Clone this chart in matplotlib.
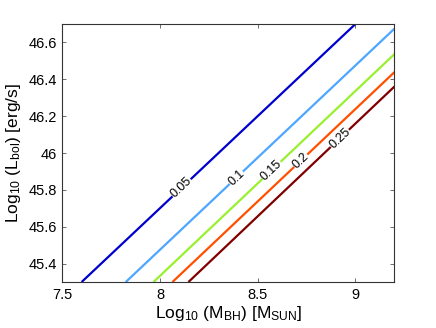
import matplotlib
matplotlib.use('Agg')
import matplotlib.pyplot as plt
import numpy as np

plt.rcParams['font.family'] = ['Liberation Sans', 'DejaVu Sans']
plt.rcParams['mathtext.default'] = 'regular'

# contour levels and where each straight contour enters/leaves the box
levels = [0.05, 0.1, 0.15, 0.2, 0.25]
m_start = [7.598, 7.824, 7.966, 8.063, 8.145]
l_start = [45.3, 45.3, 45.3, 45.3, 45.3]
m_end = [9.0, 9.2, 9.2, 9.2, 9.2]
l_end = [46.7, 46.675, 46.537, 46.439, 46.361]
label_m = [8.11, 8.39, 8.57, 8.72, 8.92]
colors = ['#0000CD', '#4DA6FF', '#99F02E', '#FF5000', '#800000']

xticks = [7.5, 8, 8.5, 9]
yticks = [45.4, 45.6, 45.8, 46, 46.2, 46.4, 46.6]

fig = plt.figure(figsize=(4.36, 3.28), dpi=100)
ax = fig.add_axes([0.1433, 0.1402, 0.7615, 0.7866])

for lev, m0, l0, m1, l1, lm, c in zip(levels, m_start, l_start, m_end, l_end, label_m, colors):
    ax.plot([m0, m1], [l0, l1], color=c, lw=1.6, solid_capstyle='butt')
    slope = (l1 - l0) / (m1 - m0)
    ll = l0 + slope * (lm - m0)
    ax.text(lm, ll, '%g' % lev, fontsize=9, ha='center', va='center',
            rotation=43.3, rotation_mode='anchor',
            bbox=dict(facecolor='white', edgecolor='none', pad=0.3))

ax.set_xlim(7.5, 9.2)
ax.set_ylim(45.3, 46.7)
ax.set_xticks(xticks)
ax.set_yticks(yticks)
ax.set_xticklabels(['%g' % v for v in xticks])
ax.set_yticklabels(['%g' % v for v in yticks])
ax.tick_params(direction='in', length=3, width=0.6, top=True, right=True,
               labelsize=10.5, color='#555555', pad=4)
for s in ax.spines.values():
    s.set_linewidth(0.8)
    s.set_color('#333333')

ax.set_xlabel('Log$_{10}$ (M$_{BH}$) [M$_{SUN}$]', fontsize=12.5, labelpad=2)
ax.set_ylabel('Log$_{10}$ (L$_{bol}$) [erg/s]', fontsize=12.5, labelpad=4)

fig.savefig('out.png', dpi=100)
